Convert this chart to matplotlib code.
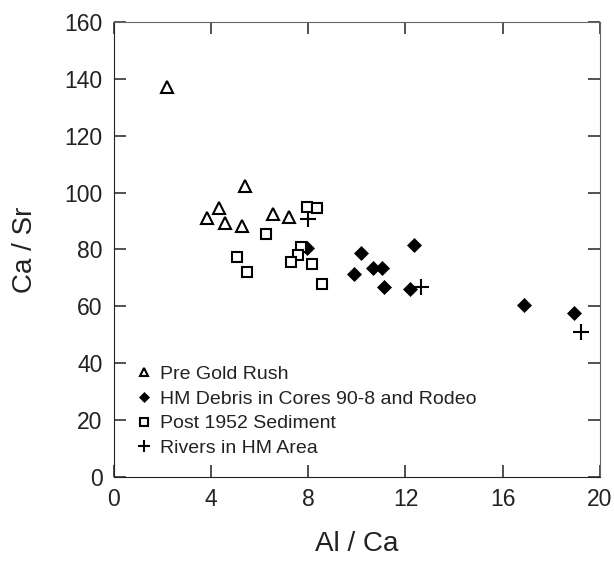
import matplotlib
matplotlib.use("Agg")
import matplotlib.pyplot as plt

# Pre Gold Rush
pre_x = [2.18, 5.41, 4.35, 3.85, 4.57, 5.27, 6.54, 7.19]
pre_y = [137.2, 102.3, 94.7, 91.2, 89.2, 88.3, 92.5, 91.5]

# HM Debris in Cores 90-8 and Rodeo
hm_x = [7.94, 10.18, 12.36, 9.89, 10.66, 11.03, 11.12, 12.17, 16.86, 18.95]
hm_y = [80.4, 78.9, 81.6, 71.3, 73.4, 73.6, 66.8, 66.0, 60.5, 57.5]

# Post 1952 Sediment
post_x = [7.97, 8.38, 6.27, 5.09, 5.50, 7.70, 7.56, 7.30, 8.17, 8.58]
post_y = [95.0, 94.7, 85.6, 77.2, 72.1, 80.8, 78.1, 75.6, 74.9, 68.0]

# Rivers in HM Area
riv_x = [7.98, 12.65, 19.23]
riv_y = [90.6, 66.7, 50.9]

x_ticks = [0, 4, 8, 12, 16, 20]
y_ticks = [0, 20, 40, 60, 80, 100, 120, 140, 160]

plt.rcParams['font.family'] = 'Liberation Sans'

fig = plt.figure(figsize=(6.14, 5.62), dpi=100)
ax = fig.add_axes([0.1852, 0.1512, 0.7920, 0.8097])

ax.plot(pre_x, pre_y, ls='none', marker='^', ms=8.5, mfc='white', mec='black', mew=1.5,
        label='Pre Gold Rush')
ax.plot(hm_x, hm_y, ls='none', marker='D', ms=7, mfc='black', mec='black', mew=0.5,
        label='HM Debris in Cores 90-8 and Rodeo')
ax.plot(post_x, post_y, ls='none', marker='s', ms=7.5, mfc='white', mec='black', mew=1.5,
        label='Post 1952 Sediment')
ax.plot(riv_x, riv_y, ls='none', marker='+', ms=11, mec='black', mew=1.5,
        label='Rivers in HM Area')

ax.set_xlim(0, 20)
ax.set_ylim(0, 160)
ax.set_xticks(x_ticks)
ax.set_yticks(y_ticks)
for axis in [ax.xaxis, ax.yaxis]:
    axis.set_tick_params(which='major', direction='in', length=8.5, width=1.1,
                         color='#222222', labelsize=16.5, pad=8,
                         labelcolor='#222222')
ax.tick_params(top=True, right=True)

for side in ['left', 'bottom']:
    ax.spines[side].set_color('#222222')
for side in ['top', 'right']:
    ax.spines[side].set_color('#666666')

ax.set_xlabel('Al / Ca', fontsize=20, labelpad=14, color='#222222')
ax.set_ylabel('Ca / Sr', fontsize=20, labelpad=19, color='#222222')

ax.legend(loc='upper left', bbox_to_anchor=(0.047, 0.245), frameon=False,
          fontsize=14, markerscale=0.75, handlelength=0.8, handletextpad=0.4,
          labelspacing=0.36, borderpad=0, borderaxespad=0, labelcolor='#222222')

fig.savefig('out.png', dpi=100)
